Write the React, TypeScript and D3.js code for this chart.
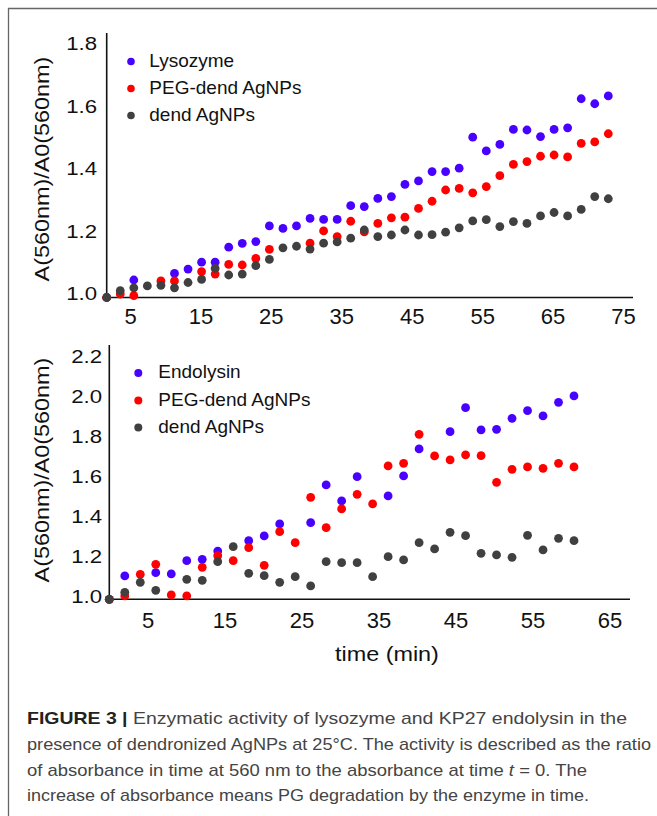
import * as d3 from 'd3'

// time points (min)
const TIME_TOP = [0, 2, 4, 6, 8, 10, 12, 14, 16, 18, 20, 22, 24, 26, 28, 30, 32, 34, 36, 38, 40, 42, 44, 46, 48, 50, 52, 54, 56, 58, 60, 62, 64, 66, 68, 70, 72, 74]
const TIME_BOT = [0, 2, 4, 6, 8, 10, 12, 14, 16, 18, 20, 22, 24, 26, 28, 30, 32, 34, 36, 38, 40, 42, 44, 46, 48, 50, 52, 54, 56, 58, 60]

// A(560nm)/A0(560nm), null = point not visible in the figure
const LYSOZYME = [1.0, null, 1.056, null, null, 1.077, 1.091, 1.113, 1.113, 1.161, 1.173, 1.179, 1.229, 1.221, 1.229, 1.253, 1.25, 1.25, 1.294, 1.291, 1.317, 1.323, 1.362, 1.373, 1.403, 1.403, 1.414, 1.513, 1.469, 1.49, 1.538, 1.536, 1.515, 1.538, 1.543, 1.636, 1.62, 1.645]
const PEG_TOP = [1.0, 1.011, 1.006, null, 1.053, 1.053, null, 1.083, 1.075, 1.106, 1.104, 1.125, 1.154, null, null, 1.174, 1.213, 1.195, 1.244, 1.21, 1.237, 1.255, 1.257, 1.285, 1.308, 1.344, 1.349, 1.335, 1.355, 1.39, 1.426, 1.435, 1.452, 1.456, 1.45, 1.493, 1.498, 1.524]
const DEND_TOP = [1.0, 1.022, 1.031, 1.037, 1.039, 1.031, 1.048, 1.058, 1.093, 1.072, 1.075, 1.102, 1.122, 1.159, 1.164, 1.155, 1.174, 1.178, 1.19, 1.216, 1.195, 1.2, 1.216, 1.2, 1.201, 1.209, 1.223, 1.245, 1.249, 1.227, 1.243, 1.237, 1.261, 1.272, 1.261, 1.282, 1.323, 1.316]

const ENDOLYSIN = [1.0, 1.117, null, 1.133, 1.127, 1.193, 1.2, 1.241, null, 1.293, 1.317, 1.377, null, 1.383, 1.572, 1.492, 1.613, null, 1.517, 1.617, 1.752, null, 1.838, 1.958, 1.847, 1.85, 1.905, 1.943, 1.917, 1.985, 2.017]
const PEG_BOT = [1.0, 1.017, 1.125, 1.175, 1.022, 1.017, 1.16, 1.218, 1.193, 1.258, 1.17, 1.338, 1.283, 1.51, 1.358, 1.452, 1.525, 1.477, 1.667, 1.68, 1.825, 1.717, 1.697, 1.722, 1.718, 1.585, 1.65, 1.662, 1.655, 1.68, 1.662]
const DEND_BOT = [1.0, 1.035, 1.085, 1.045, null, 1.1, 1.095, 1.188, 1.263, 1.13, 1.118, 1.085, 1.113, 1.067, 1.188, 1.183, 1.183, 1.113, 1.213, 1.197, 1.283, 1.252, 1.335, 1.318, 1.23, 1.222, 1.21, 1.32, 1.247, 1.305, 1.293]

const X_TICKS_TOP = [5, 15, 25, 35, 45, 55, 65, 75]
const X_TICKS_BOT = [5, 15, 25, 35, 45, 55, 65]
const Y_TICKS_TOP = [1.0, 1.2, 1.4, 1.6, 1.8]
const Y_TICKS_BOT = [1.0, 1.2, 1.4, 1.6, 1.8, 2.0, 2.2]

const LEGEND_TOP = ['Lysozyme', 'PEG-dend AgNPs', 'dend AgNPs']
const LEGEND_BOT = ['Endolysin', 'PEG-dend AgNPs', 'dend AgNPs']

const CAPTION = [
  'presence of dendronized AgNPs at 25°C. The activity is described as the ratio',
  'of absorbance in time at 560 nm to the absorbance at time ',
  'increase of absorbance means PG degradation by the enzyme in time.',
]

const COLORS = ['#4800ff', '#ff0000', '#404040']
const FONT = 'Arial, "Liberation Sans", Helvetica, sans-serif'
const fmt = d3.format('.1f')

interface PanelProps {
  time: number[]
  series: (number | null)[][]
  legend: string[]
  xTicks: number[]
  yTicks: number[]
  tRange: [number, number]
  xRange: [number, number]
  tickRange: [number, number]
  yDomain: [number, number]
  yRange: [number, number]
  axisTop: number
  axisRight: number
  yLabelX: number
  yLabelDy: number
  xLabelDy: number
  titleY: number
  legendX: number
  legendY: number[]
  legendR: number
  legendGap: number
}

function Panel(p: PanelProps) {
  const x = d3.scaleLinear().domain(p.tRange).range(p.xRange)
  const xt = d3.scaleLinear().domain([p.xTicks[0], p.xTicks[p.xTicks.length - 1]]).range(p.tickRange)
  const y = d3.scaleLinear().domain(p.yDomain).range(p.yRange)
  const x0 = x(0)
  const y0 = y(p.yDomain[0])

  return (
    <g>
      {/* axes */}
      <line x1={x0} x2={x0} y1={p.axisTop} y2={y0} stroke="#111" strokeWidth={1.6} />
      <line x1={x0} x2={p.axisRight} y1={y0} y2={y0} stroke="#111" strokeWidth={1.6} />

      {p.yTicks.map(v => (
        <text key={v} transform={`translate(${p.yLabelX},${y(v) + p.yLabelDy}) scale(1.2,1)`}
          textAnchor="end" fontSize={18.5} fontFamily={FONT} fill="#111">{fmt(v)}</text>
      ))}
      {p.xTicks.map(v => (
        <text key={v} x={xt(v)} y={y0 + p.xLabelDy} textAnchor="middle" fontSize={22} fontFamily={FONT} fill="#111">{v}</text>
      ))}

      <text transform={`translate(49,${p.titleY}) rotate(-90) scale(1.2,1)`} textAnchor="middle"
        fontSize={19.5} fontFamily={FONT} fill="#111">A(560nm)/A0(560nm)</text>

      {/* points: blue, red, then gray on top */}
      {p.series.map((vals, si) => (
        <g key={si} fill={COLORS[si]}>
          {vals.map((v, i) => v == null ? null : (
            <circle key={i} cx={x(p.time[i])} cy={y(v)} r={4.4} />
          ))}
        </g>
      ))}

      {/* legend */}
      {p.legend.map((name, i) => (
        <g key={name}>
          <circle cx={p.legendX} cy={p.legendY[i]} r={p.legendR} fill={COLORS[i]} />
          <text x={p.legendX + p.legendGap} y={p.legendY[i] + 5} fontSize={19} fontFamily={FONT} fill="#111">{name}</text>
        </g>
      ))}
    </g>
  )
}

export default function App() {
  return (
    <div style={{ position: 'absolute', left: 0, top: 0 }}>
      <svg width={657} height={816} style={{ display: 'block', background: '#fff' }}>
        <path d="M657,8.5 H8.5 V816" fill="none" stroke="#666" strokeWidth={1.3} />

        <Panel time={TIME_TOP} series={[LYSOZYME, PEG_TOP, DEND_TOP]} legend={LEGEND_TOP}
          xTicks={X_TICKS_TOP} yTicks={Y_TICKS_TOP}
          tRange={[0, 74]} xRange={[106.7, 608.3]} tickRange={[130.5, 623.5]}
          yDomain={[1.0, 1.8]} yRange={[297.5, 47.5]} axisTop={33} axisRight={633}
          yLabelX={97} yLabelDy={2.5} xLabelDy={26.5} titleY={169}
          legendX={131} legendY={[61.5, 88.5, 115.5]} legendR={3.8} legendGap={18.3} />

        <Panel time={TIME_BOT} series={[ENDOLYSIN, PEG_BOT, DEND_BOT]} legend={LEGEND_BOT}
          xTicks={X_TICKS_BOT} yTicks={Y_TICKS_BOT}
          tRange={[0, 60]} xRange={[109.3, 574]} tickRange={[148, 610]}
          yDomain={[1.0, 2.2]} yRange={[599.3, 359.3]} axisTop={345} axisRight={630}
          yLabelX={102} yLabelDy={3.4} xLabelDy={28.4} titleY={470}
          legendX={138.3} legendY={[373, 400.5, 427.5]} legendR={4} legendGap={20} />

        <text transform="translate(335,661) scale(1.2,1)" fontSize={19.5} fontFamily={FONT} fill="#111">time (min)</text>

        {/* caption */}
        <g fontFamily='"Liberation Sans Narrow", "Arial Narrow", Arial, sans-serif' fontSize={17} fill="#444">
          <text x={27} y={724} textLength={600} lengthAdjust="spacingAndGlyphs">
            <tspan fontWeight="bold" fill="#222">FIGURE 3 |</tspan> Enzymatic activity of lysozyme and KP27 endolysin in the
          </text>
          <text x={27} y={750} textLength={624} lengthAdjust="spacingAndGlyphs">{CAPTION[0]}</text>
          <text x={27} y={776} textLength={560} lengthAdjust="spacingAndGlyphs">
            {CAPTION[1]}<tspan fontStyle="italic">t</tspan> = 0. The
          </text>
          <text x={27} y={801} textLength={562} lengthAdjust="spacingAndGlyphs">{CAPTION[2]}</text>
        </g>
      </svg>
    </div>
  )
}
